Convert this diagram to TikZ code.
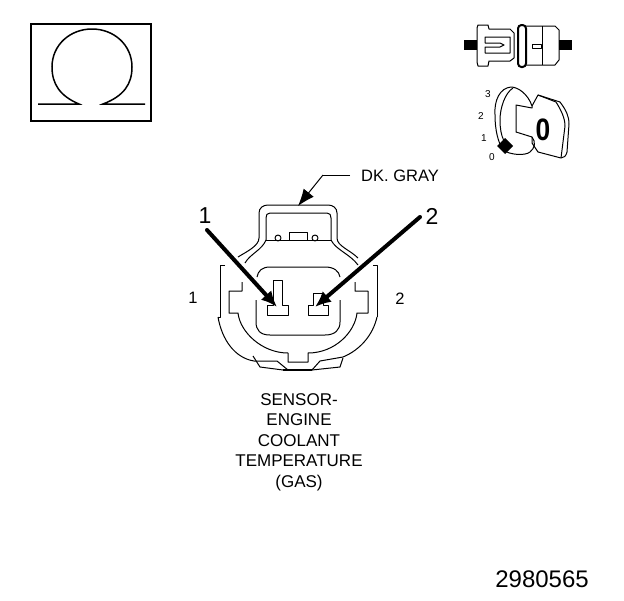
\documentclass[tikz,border=0pt]{standalone}
\usepackage{fontspec}
\setmainfont{Liberation Sans}
\usetikzlibrary{arrows.meta}
\tikzset{
  lbl/.style={inner sep=0pt,font=\fontsize{16.5}{16.5}\selectfont},
  biglbl/.style={inner sep=0pt,font=\fontsize{23}{23}\selectfont},
  tinylbl/.style={inner sep=0pt,font=\fontsize{10}{10}\selectfont},
  pointer/.style={line width=4pt,line cap=round,-{Latex[length=16pt,width=14pt]}},
  leader/.style={line width=1pt,-{Latex[length=17pt,width=13pt]}},
  part/.style={line width=1pt,line join=round}
}
\begin{document}
\begin{tikzpicture}[x=1pt,y=-1pt]
\useasboundingbox(0,0)rectangle(624,600);
% ohm symbol
\draw[line width=2.5pt](31,24)rectangle(151,121);
\draw[line width=1.5pt](38,104)--(79,104)..controls(60,96)and(52,84)..(52,67)
  ..controls(52,45)and(70,29)..(92,29)..controls(114,29)and(132,45)..(132,67)
  ..controls(132,84)and(124,96)..(103,104)--(145,104);
% top view of plug
\fill(464,40)rectangle(477,50);
\fill(559,40)rectangle(572,50);
\draw[part](477,28)--(478,25)--(488,25)--(489,29)--(510,29)--(514,33)--(514,58)--(510,61)--(489,61)
  --(488,66)--(478,66)--(477,62)--cycle;
\draw[part](485,37)--(510,37)--(510,53)--(485,53)--(485,47)--(500,47)--(504,45)--(500,43)--(485,43)--cycle;
\draw[line width=2pt,rounded corners=3.5pt](518,25)rectangle(526,67);
\draw[part](526,26)--(555,26)--(559,30)--(559,60)--(555,65)--(526,65);
\draw[part](542,26)--(542,65);
\draw[part](532,44)rectangle(541,48);
% key positions
\node[tinylbl](pos3)at(488,94){3};
\node[tinylbl](pos2)at(481,116){2};
\node[tinylbl](pos1)at(484,138){1};
\node[tinylbl](pos0)at(492,157){0};
\draw[part](532,106)..controls(528,94)and(518,87)..(511,87)..controls(500,88)and(494,100)..(495,115)
  ..controls(495,130)and(498,142)..(503,150)..controls(510,155)and(525,156)..(530,152)
  ..controls(535,148)and(536,142)..(532,137)--(516,132)--(516,105)--(532,108)--cycle;
\draw[part](513,88)..controls(505,93)and(500,108)..(500,120)..controls(500,128)and(501,135)..(504,141);
\draw[part](532,106)--(538,95)--(560,102)..controls(566,110)and(569,116)..(569,124)--(567,152)
  ..controls(566,156)and(564,158)..(561,158)--(538,152)--(532,143)--(532,137);
\draw[part](538,95)--(556,102)..controls(561,110)and(565,118)..(565,126)--(561,158);
\node[inner sep=0pt,xscale=.85,font=\fontsize{31}{31}\bfseries\selectfont](keynum)at(543,130){0};
\fill(505,138)--(513,146)--(505,154)--(497,146)--cycle;
% connector
\draw[part](238,257)..controls(246,252)and(259,246)..(259,238)--(259,213)
  ..controls(259,208)and(263,205)..(268,205)--(328,205)..controls(333,205)and(337,208)..(337,213)
  --(337,238)..controls(337,246)and(350,250)..(358,258);
\draw[part](245,263)..controls(250,254)and(262,250)..(266,240)--(266,218)..controls(266,215)and(267,213)..(270,213)
  --(327,213)..controls(330,213)and(331,215)..(331,218)--(331,240)..controls(336,250)and(350,254)..(358,265);
\draw[part](266,240)--(331,240);
\draw[part](278,238)circle(3);
\draw[part](315,238)circle(3);
\draw[part](289,232)rectangle(307,240);
% left and right lock
\draw[part](225,265)--(220,265)--(220,317)--(218,317);
\draw[part](242,282)--(242,291)--(229,291)--(229,313)--(238,313)
  ..controls(240,332)and(262,353)..(288,353)--(288,362)--(308,362)--(308,353)
  ..controls(335,353)and(355,332)..(357,313)--(368,313)--(368,291)--(355,291)--(355,282);
\draw[part](373,265)--(377,265)--(377,317);
\draw[part](218,317)..controls(222,340)and(235,358)..(254,361)--(277,361)--(288,370)--(312,370)--(320,361)--(343,357)
  ..controls(360,350)and(373,335)..(377,317);
\draw[part](253,356)--(260,367)--(283,370);
\draw[part](343,358)--(340,367)--(312,370);
\draw[line width=2pt](283,370)--(312,370);
% cavity and pins
\draw[part](257,277)..controls(258,271)and(262,267)..(270,267)--(325,267)..controls(334,267)and(339,271)..(340,277);
\draw[part](256,300)--(256,322)..controls(256,330)and(260,335)..(270,335)--(325,335)..controls(335,335)and(340,330)..(340,322)--(340,300);
\draw[part](273,280)--(282,280)--(282,305)--(288,305)--(288,315)--(267,315)--(267,305)--(273,305)--cycle;
\draw[part](313,293)--(323,293)--(323,305)--(328,305)--(328,315)--(308,315)--(308,305)--(313,305)--cycle;
% labels
\coordinate(gray)at(350,175);
\coordinate(grayb)at(323,175);
\coordinate(graytip)at(298,206);
\draw[line width=1pt](gray)--(grayb);
\draw[leader](grayb)--(graytip);
\node[lbl,anchor=west](dkgray)at(361,176){DK. GRAY};
\node[biglbl](num1)at(205,216){1};
\node[biglbl](num2)at(432,216){2};
\coordinate(tail1)at(207,230);
\coordinate(tip1)at(277,307);
\coordinate(tail2)at(420,217);
\coordinate(tip2)at(315,307);
\draw[pointer](tail1)--(tip1);
\draw[pointer](tail2)--(tip2);
\node[lbl](side1)at(193,298){1};
\node[lbl](side2)at(400,299){2};
\node[lbl,align=center,font=\fontsize{17}{20.5}\selectfont](sensor)at(299,442){SENSOR-\\ENGINE\\COOLANT\\TEMPERATURE\\(GAS)};
\node[inner sep=0pt,anchor=east,font=\fontsize{24}{24}\selectfont](code)at(589,579){2980565};
\end{tikzpicture}
\end{document}
